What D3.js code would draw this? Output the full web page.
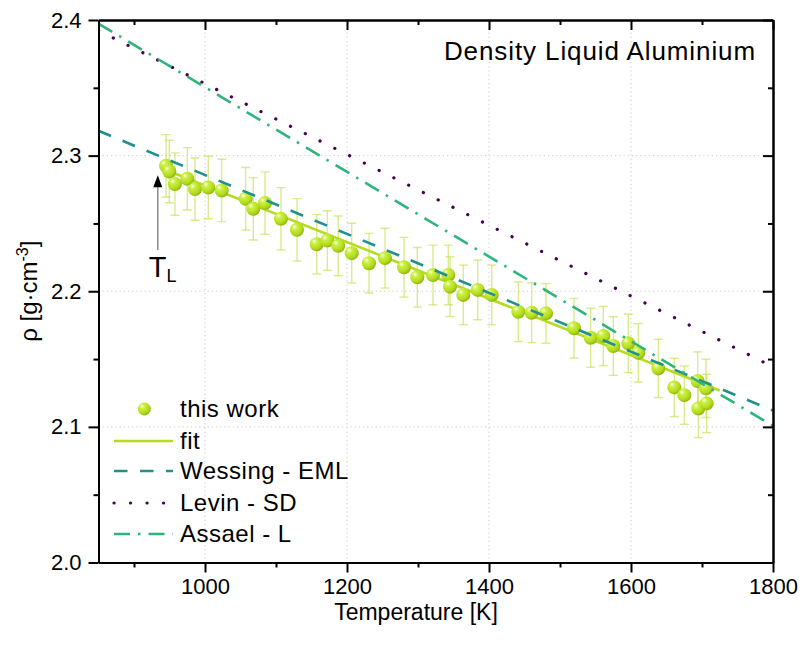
<!DOCTYPE html>
<html>
<head>
<meta charset="utf-8">
<script src="https://cdn.jsdelivr.net/npm/d3@7/dist/d3.min.js"></script>
<style>
  html, body { margin: 0; padding: 0; background: #fff; }
  svg { display: block; font-family: "Liberation Sans", Arial, sans-serif; }
</style>
</head>
<body>
<svg id="chart" width="803" height="653"></svg>
<script>
// ---------------- data ----------------
const temps = [945.1, 949.7, 957.7, 975.1, 985.9, 1004.6, 1023.5, 1057.3, 1068.0, 1084.5,
  1107.0, 1129.6, 1157.3, 1172.3, 1187.7, 1206.6, 1231.0, 1253.5, 1280.3, 1299.0,
  1321.1, 1342.7, 1345.1, 1363.8, 1384.1, 1403.8, 1441.3, 1460.1, 1480.3, 1519.7,
  1543.2, 1561.0, 1575.1, 1596.2, 1610.3, 1638.5, 1661.0, 1675.1, 1693.9, 1705.6,
  1694.8, 1706.6];
const rhos = [2.2925, 2.2883, 2.2790, 2.2829, 2.2753, 2.2765, 2.2743, 2.2682, 2.2608, 2.2650,
  2.2534, 2.2453, 2.2347, 2.2374, 2.2335, 2.2281, 2.2207, 2.2244, 2.2177, 2.2103,
  2.2120, 2.2120, 2.2034, 2.1973, 2.2010, 2.1973, 2.1849, 2.1842, 2.1837, 2.1727,
  2.1657, 2.1670, 2.1596, 2.1616, 2.1546, 2.1431, 2.1291, 2.1234, 2.1338, 2.1284,
  2.1136, 2.1173];
const errs = [0.023, 0.023, 0.023, 0.023, 0.023, 0.023, 0.023, 0.023, 0.023, 0.023,
  0.023, 0.023, 0.022, 0.022, 0.022, 0.022, 0.022, 0.022, 0.022, 0.022,
  0.022, 0.022, 0.022, 0.022, 0.022, 0.022, 0.022, 0.022, 0.022, 0.022,
  0.0218, 0.0218, 0.0216, 0.0216, 0.0216, 0.0215, 0.0215, 0.0215, 0.0215, 0.0215,
  0.0215, 0.0215];

const fitT = [946, 1725];
const fitRho = [2.2892, 2.1268];

const refT = [850, 1800];
const wessingRho = [2.3183, 2.1120];
const levinRho = [2.3922, 2.1443];
const assaelRho = [2.3973, 2.1007];

const xMajor = [1000, 1200, 1400, 1600, 1800];
const xMinor = [900, 1100, 1300, 1500, 1700];
const yMajor = [2.0, 2.1, 2.2, 2.3, 2.4];
const yMinor = [2.05, 2.15, 2.25, 2.35];
const xGrid = [1000, 1200, 1400, 1600];
const yGrid = [2.1, 2.2, 2.3];

const legendLabels = ["this work", "fit", "Wessing - EML", "Levin - SD", "Assael - L"];
const titleText = "Density Liquid Aluminium";
const meltT = 933.5;
const meltArrowRho = [2.2305, 2.2855];

// ---------------- layout ----------------
const W = 803, H = 653;
const m = { left: 98.5, top: 20, right: 30, bottom: 90.5 };
const iw = W - m.left - m.right, ih = H - m.top - m.bottom;

const svg = d3.select("#chart");
const defs = svg.append("defs");
const grad = defs.append("radialGradient").attr("id", "ball")
  .attr("cx", "38%").attr("cy", "34%").attr("r", "65%").attr("fx", "32%").attr("fy", "28%");
grad.append("stop").attr("offset", "0%").attr("stop-color", "#fbffe8");
grad.append("stop").attr("offset", "28%").attr("stop-color", "#cdef45");
grad.append("stop").attr("offset", "75%").attr("stop-color", "#b3dc1c");
grad.append("stop").attr("offset", "100%").attr("stop-color", "#92b812");
defs.append("clipPath").attr("id", "clip").append("rect")
  .attr("x", 0).attr("y", 0).attr("width", iw).attr("height", ih);

const g = svg.append("g").attr("transform", `translate(${m.left},${m.top})`);

const x = d3.scaleLinear().domain([850, 1800]).range([0, iw]);
const y = d3.scaleLinear().domain([2.0, 2.4]).range([ih, 0]);

// grid
g.append("g").selectAll("line").data(xGrid).join("line")
  .attr("x1", d => x(d)).attr("x2", d => x(d)).attr("y1", 0).attr("y2", ih)
  .attr("stroke", "#c8c8c8").attr("stroke-width", 1).attr("stroke-dasharray", "1.2,3");
g.append("g").selectAll("line").data(yGrid).join("line")
  .attr("y1", d => y(d)).attr("y2", d => y(d)).attr("x1", 0).attr("x2", iw)
  .attr("stroke", "#c8c8c8").attr("stroke-width", 1).attr("stroke-dasharray", "1.2,3");

const plot = g.append("g").attr("clip-path", "url(#clip)");
const pts = temps.map((t, i) => ({ t, r: rhos[i], e: errs[i] }));

// error bars
const eb = plot.append("g").attr("stroke", "#c3e050").attr("stroke-opacity", 0.65).attr("stroke-width", 1.4);
eb.selectAll("line.v").data(pts).join("line").attr("class", "v")
  .attr("x1", d => x(d.t)).attr("x2", d => x(d.t))
  .attr("y1", d => y(d.r + d.e)).attr("y2", d => y(d.r - d.e));
eb.selectAll("line.t").data(pts).join("line").attr("class", "t")
  .attr("x1", d => x(d.t) - 4.5).attr("x2", d => x(d.t) + 4.5)
  .attr("y1", d => y(d.r + d.e)).attr("y2", d => y(d.r + d.e));
eb.selectAll("line.b").data(pts).join("line").attr("class", "b")
  .attr("x1", d => x(d.t) - 4.5).attr("x2", d => x(d.t) + 4.5)
  .attr("y1", d => y(d.r - d.e)).attr("y2", d => y(d.r - d.e));

const line = d3.line().x(d => x(d[0])).y(d => y(d[1]));

// fit
plot.append("path").datum(fitT.map((t, i) => [t, fitRho[i]]))
  .attr("d", line).attr("fill", "none").attr("stroke", "#b5dc22").attr("stroke-width", 2.6);

// markers
plot.append("g").selectAll("circle").data(pts).join("circle")
  .attr("cx", d => x(d.t)).attr("cy", d => y(d.r)).attr("r", 7)
  .attr("fill", "url(#ball)");

// reference lines
const refs = [
  { rho: wessingRho, color: "#21908d", dash: "13.5,12.5", cap: "butt" },
  { rho: levinRho, color: "#440154", dash: "0.1,16.4", cap: "round" },
  { rho: assaelRho, color: "#2fb47c", dash: "16,8,2.5,8", cap: "butt" }
];
refs.forEach(r => {
  plot.append("path").datum(refT.map((t, i) => [t, r.rho[i]]))
    .attr("d", line).attr("fill", "none").attr("stroke", r.color)
    .attr("stroke-width", r.cap === "round" ? 3.2 : 2.6)
    .attr("stroke-linecap", r.cap).attr("stroke-dasharray", r.dash);
});

// axes
const axStyle = sel => {
  sel.selectAll(".domain").attr("stroke", "#000").attr("stroke-width", 2);
  sel.selectAll(".tick line").attr("stroke", "#000").attr("stroke-width", 2);
  sel.selectAll(".tick text").attr("fill", "#000").style("font-size", "22px")
    .style("font-family", "'Liberation Sans', Arial, sans-serif");
};
const fmt = d3.format(".1f");
g.append("g").attr("transform", `translate(0,${ih})`)
  .call(d3.axisBottom(x).tickValues(xMajor).tickFormat(d3.format("d")).tickSize(10).tickSizeOuter(0).tickPadding(6))
  .call(axStyle);
g.append("g").attr("transform", `translate(0,${ih})`)
  .call(d3.axisBottom(x).tickValues(xMinor).tickFormat("").tickSize(5).tickSizeOuter(0))
  .call(axStyle);
g.append("g")
  .call(d3.axisLeft(y).tickValues(yMajor).tickFormat(fmt).tickSize(10).tickSizeOuter(0).tickPadding(7))
  .call(axStyle);
g.append("g")
  .call(d3.axisLeft(y).tickValues(yMinor).tickFormat("").tickSize(5).tickSizeOuter(0))
  .call(axStyle);
g.append("g")
  .call(d3.axisTop(x).tickValues(xMajor).tickFormat("").tickSize(-10).tickSizeOuter(0))
  .call(axStyle);
g.append("g")
  .call(d3.axisTop(x).tickValues(xMinor).tickFormat("").tickSize(-5).tickSizeOuter(0))
  .call(axStyle);
g.append("g").attr("transform", `translate(${iw},0)`)
  .call(d3.axisRight(y).tickValues(yMajor).tickFormat("").tickSize(-10).tickSizeOuter(0))
  .call(axStyle);
g.append("g").attr("transform", `translate(${iw},0)`)
  .call(d3.axisRight(y).tickValues(yMinor).tickFormat("").tickSize(-5).tickSizeOuter(0))
  .call(axStyle);

// axis titles
g.append("text").attr("x", 416 - m.left).attr("y", ih + 57).attr("text-anchor", "middle")
  .style("font-size", "23px").attr("fill", "#000").text("Temperature [K]");
const yl = g.append("text").attr("transform", `translate(${-62},${ih / 2}) rotate(-90)`)
  .attr("text-anchor", "middle").style("font-size", "24px").attr("fill", "#000");
yl.append("tspan").text("ρ [g·cm");
yl.append("tspan").attr("dy", -9).style("font-size", "16px").text("-3");
yl.append("tspan").attr("dy", 9).text("]");

// title
g.append("text").attr("x", iw - 17).attr("y", 40).attr("text-anchor", "end")
  .style("font-size", "26px").style("letter-spacing", "0.9px").attr("fill", "#000").text(titleText);

// T_L annotation
const ax = x(meltT);
g.append("line").attr("x1", ax).attr("x2", ax)
  .attr("y1", y(meltArrowRho[0])).attr("y2", y(meltArrowRho[1]) + 10)
  .attr("stroke", "#8c8c8c").attr("stroke-width", 1.5);
g.append("path")
  .attr("d", `M${ax},${y(meltArrowRho[1])} L${ax - 4.5},${y(meltArrowRho[1]) + 12} L${ax + 4.5},${y(meltArrowRho[1]) + 12} Z`)
  .attr("fill", "#000");
const tl = g.append("text").attr("x", ax - 9).attr("y", y(meltArrowRho[0]) + 27).attr("fill", "#000");
tl.append("tspan").style("font-size", "29px").text("T");
tl.append("tspan").attr("dy", 5).style("font-size", "18px").text("L");

// legend
const lg = g.append("g");
const rowY = [389, 421, 451, 483, 514];
const swX0 = 114 - m.left, swX1 = 173 - m.left, txtX = 180 - m.left;
lg.append("circle").attr("cx", 144.3 - m.left).attr("cy", rowY[0]).attr("r", 6.5).attr("fill", "url(#ball)");
lg.append("line").attr("x1", swX0).attr("x2", swX1).attr("y1", rowY[1]).attr("y2", rowY[1])
  .attr("stroke", "#b5dc22").attr("stroke-width", 2.6);
refs.forEach((r, i) => {
  lg.append("line").attr("x1", swX0).attr("x2", swX1).attr("y1", rowY[i + 2]).attr("y2", rowY[i + 2])
    .attr("stroke", r.color).attr("stroke-width", r.cap === "round" ? 3.2 : 2.6)
    .attr("stroke-linecap", r.cap).attr("stroke-dasharray", r.dash);
});
lg.selectAll("text").data(legendLabels).join("text")
  .attr("x", txtX).attr("y", (d, i) => rowY[i] + 8)
  .style("font-size", "24px").style("letter-spacing", "0.5px").attr("fill", "#000").text(d => d);
</script>
</body>
</html>
